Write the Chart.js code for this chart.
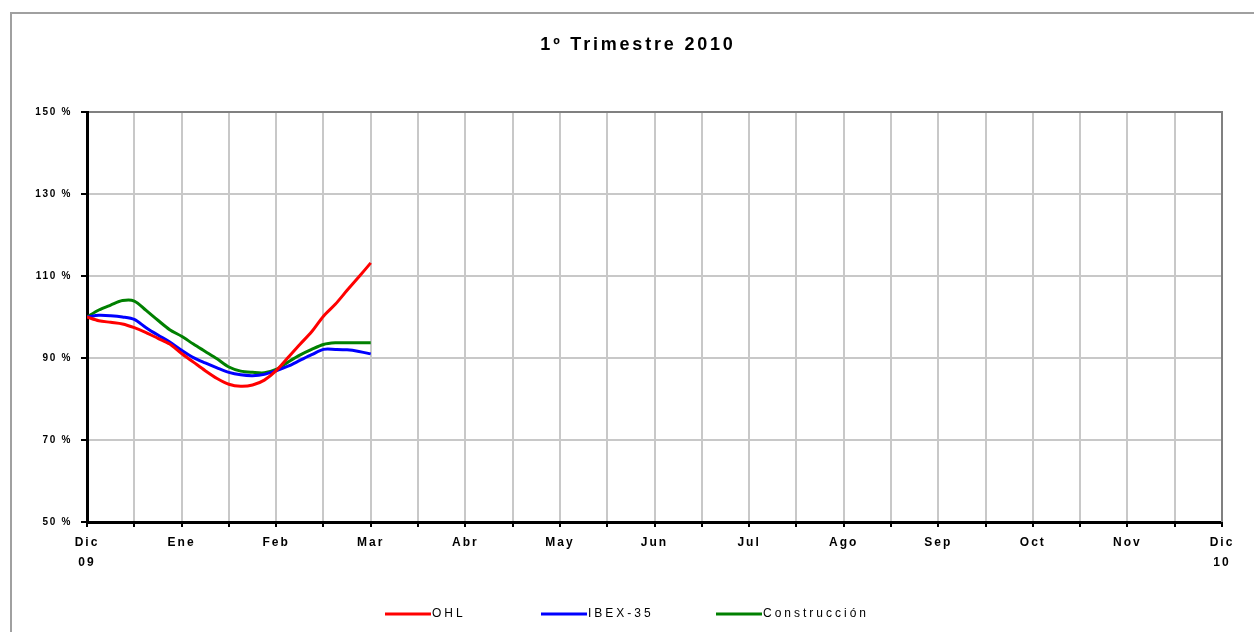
<!DOCTYPE html>
<html>
<head>
<meta charset="utf-8">
<title>1º Trimestre 2010</title>
<script src="https://cdn.jsdelivr.net/npm/chart.js@4.4.1/dist/chart.umd.min.js"></script>
<style>
    html, body { margin: 0; padding: 0; background: #fff; }
    canvas { display: block; }
</style>
</head>
<body>
<canvas id="myChart" width="1254" height="632"></canvas>
<script>
// Data, x in half-month steps from Dic 09 (0) to Dic 10 (24)
const xPos = [0, 0.25, 0.5, 0.75, 1, 1.25, 1.5, 1.75, 2, 2.25, 2.5, 2.75, 3,
              3.25, 3.5, 3.75, 4, 4.25, 4.5, 4.75, 5, 5.25, 5.5, 5.75, 6];
const ohl = [100, 99.1, 98.7, 98.3, 97.4, 96.2, 94.8, 93.4, 91.1, 89.0, 86.9, 85.0, 83.6,
             83.1, 83.4, 84.6, 86.9, 90.1, 93.3, 96.4, 100.2, 103.1, 106.5, 109.8, 113.2];
const ibex = [100, 100.4, 100.3, 100.0, 99.4, 97.4, 95.6, 93.9, 91.9, 90.1, 88.8, 87.6, 86.5,
              85.9, 85.7, 86.0, 86.9, 88.0, 89.4, 90.8, 92.1, 92.1, 92.0, 91.6, 91.0];
const construccion = [100, 101.7, 102.9, 104.0, 103.9, 101.6, 99.2, 96.9, 95.3, 93.4, 91.6, 89.8, 87.8,
                      86.8, 86.5, 86.4, 87.2, 89.0, 90.7, 92.1, 93.3, 93.7, 93.7, 93.7, 93.7];
const seriesNames = ['OHL', 'IBEX-35', 'Construcción'];
const seriesColors = ['#ff0000', '#0000ff', '#008000'];
const tickLabels = [['Dic', '09'], 'Ene', 'Feb', 'Mar', 'Abr', 'May', 'Jun',
                    'Jul', 'Ago', 'Sep', 'Oct', 'Nov', ['Dic', '10']];
const yMin = 50, yMax = 150, yStep = 20;

function points(values) {
    return values.map((v, i) => ({ x: xPos[i], y: v }));
}

Chart.defaults.font.family = "'Liberation Sans', Arial, sans-serif";
Chart.defaults.color = '#000';

// frame, plot border and the legend are drawn here
const framePlugin = {
    id: 'frame',
    beforeDraw(chart) {
        const ctx = chart.ctx;
        ctx.save();
        ctx.fillStyle = '#fff';
        ctx.fillRect(0, 0, chart.width, chart.height);
        ctx.strokeStyle = '#a0a0a0';
        ctx.lineWidth = 2;
        ctx.strokeRect(11, 13, chart.width + 20, chart.height + 20);
        ctx.restore();
    },
    beforeDatasetsDraw(chart) {
        const { ctx, chartArea: a } = chart;
        ctx.save();
        ctx.strokeStyle = '#808080';
        ctx.lineWidth = 2;
        ctx.beginPath();
        ctx.moveTo(a.left + 2, a.top);
        ctx.lineTo(a.right, a.top);
        ctx.lineTo(a.right, a.bottom);
        ctx.stroke();
        ctx.restore();
    },
    afterDraw(chart) {
        const ctx = chart.ctx;
        const itemX = [385, 541, 716];
        const y = 614;
        ctx.save();
        ctx.font = "12px 'Liberation Sans', Arial, sans-serif";
        ctx.letterSpacing = '3px';
        ctx.textBaseline = 'middle';
        ctx.fillStyle = '#000';
        chart.data.datasets.forEach((ds, i) => {
            ctx.strokeStyle = ds.borderColor;
            ctx.lineWidth = 3;
            ctx.beginPath();
            ctx.moveTo(itemX[i], y);
            ctx.lineTo(itemX[i] + 46, y);
            ctx.stroke();
            ctx.fillText(ds.label, itemX[i] + 47, y);
        });
        ctx.restore();
    }
};

const ctx = document.getElementById('myChart').getContext('2d');
const myChart = new Chart(ctx, {
    type: 'line',
    data: {
        datasets: [ohl, ibex, construccion].map((vals, i) => ({
            label: seriesNames[i],
            data: points(vals),
            borderColor: seriesColors[i],
            backgroundColor: seriesColors[i],
            borderWidth: 3,
            pointRadius: 0,
            tension: 0.3,
            fill: false
        }))
    },
    options: {
        responsive: false,
        animation: false,
        layout: { padding: { left: 0, right: 32, top: 0, bottom: 0 } },
        plugins: {
            legend: { display: false },
            tooltip: { enabled: false },
            title: {
                display: true,
                text: '1º Trimestre 2010',
                color: '#000',
                font: { size: 18, weight: 'bold', lineHeight: 1.2 },
                padding: { top: 34.2, bottom: 56.2 }
            }
        },
        scales: {
            x: {
                type: 'linear',
                min: 0,
                max: 24,
                afterFit: (scale) => { scale.height = 110; },
                grid: { color: '#c8c8c8', lineWidth: 2, tickColor: '#000', tickWidth: 2, tickLength: 5 },
                border: { color: '#000', width: 3 },
                ticks: {
                    stepSize: 1,
                    autoSkip: false,
                    maxRotation: 0,
                    padding: 6,
                    font: { size: 12, weight: 'bold', lineHeight: 1.667 },
                    callback: (v) => (v % 2 === 0 ? tickLabels[v / 2] : '')
                }
            },
            y: {
                min: yMin,
                max: yMax,
                afterFit: (scale) => { scale.width = 87; },
                grid: { color: '#c8c8c8', lineWidth: 2, tickColor: '#000', tickWidth: 2, tickLength: 6 },
                border: { color: '#000', width: 3 },
                ticks: {
                    stepSize: yStep,
                    padding: 9,
                    font: { size: 10, weight: 'bold' },
                    callback: (v) => v + ' %'
                }
            }
        }
    },
    plugins: [framePlugin]
});

// letter spacing like the original export (and the title centred on the frame)
function withSpacing(obj, method, spacing, shiftX) {
    const orig = obj[method];
    obj[method] = function (...args) {
        const c = this.ctx;
        c.save();
        c.letterSpacing = spacing;
        if (shiftX) c.translate(shiftX, 0);
        const r = orig.apply(this, args);
        c.restore();
        return r;
    };
}
withSpacing(myChart.titleBlock, 'draw', '2.8px', 27);
withSpacing(myChart.scales.x, 'drawLabels', '2px');
withSpacing(myChart.scales.y, 'drawLabels', '1.7px');
myChart.draw();
</script>
</body>
</html>
